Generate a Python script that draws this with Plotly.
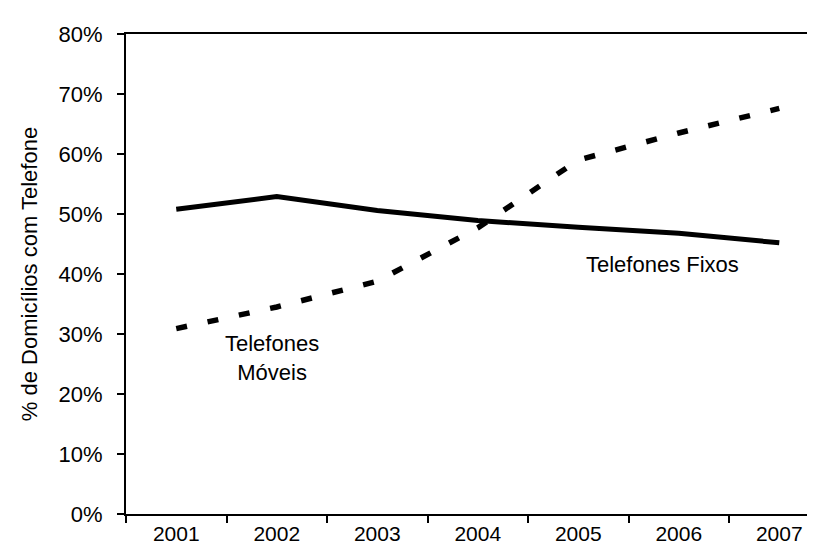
import plotly.graph_objects as go

# data
years = ['2001', '2002', '2003', '2004', '2005', '2006', '2007']
fixos = [0.508, 0.529, 0.506, 0.489, 0.478, 0.468, 0.452]
moveis = [0.309, 0.345, 0.388, 0.477, 0.590, 0.635, 0.676]
y_ticks = [0, 0.1, 0.2, 0.3, 0.4, 0.5, 0.6, 0.7, 0.8]

FONT = dict(family='Liberation Sans, Arial, sans-serif', size=22, color='black')
TICKFONT = dict(family='Liberation Sans, Arial, sans-serif', size=21, color='black')

fig = go.Figure()

# Telefones Fixos - solid line
fig.add_trace(go.Scatter(x=years, y=fixos, mode='lines',
                         line=dict(color='black', width=5), name='Telefones Fixos'))
# Telefones Moveis - dashed line
fig.add_trace(go.Scatter(x=years, y=moveis, mode='lines',
                         line=dict(color='black', width=5.5, dash='11px,21px'), name='Telefones Móveis'))

# line labels
fig.add_annotation(x=4.84, y=0.4155, text='Telefones Fixos', showarrow=False,
                   xref='x', yref='y', font=FONT)
fig.add_annotation(x=0.95, y=0.26, text='Telefones<br>Móveis', showarrow=False,
                   xref='x', yref='y', font=FONT)

fig.update_xaxes(type='category', range=[-0.5, 6.435],
                 showline=True, linecolor='black', linewidth=2, mirror=True,
                 ticks='outside', tickson='boundaries', ticklen=7, tickwidth=1.5, tickcolor='black',
                 showgrid=False, zeroline=False, tickfont=TICKFONT, ticklabelstandoff=0)
fig.update_yaxes(range=[0, 0.8], tickvals=y_ticks, tickformat='.0%',
                 showline=True, linecolor='black', linewidth=2,
                 ticks='outside', ticklen=7, tickwidth=1.5, tickcolor='black',
                 showgrid=False, zeroline=False, tickfont=FONT, ticklabelstandoff=10,
                 title=dict(text='% de Domicílios com Telefone', font=FONT, standoff=15))

fig.update_layout(width=815, height=549, showlegend=False,
                  margin=dict(l=118, r=0, t=26, b=43),
                  paper_bgcolor='white', plot_bgcolor='white', font=FONT)

fig.write_html('out.html')
